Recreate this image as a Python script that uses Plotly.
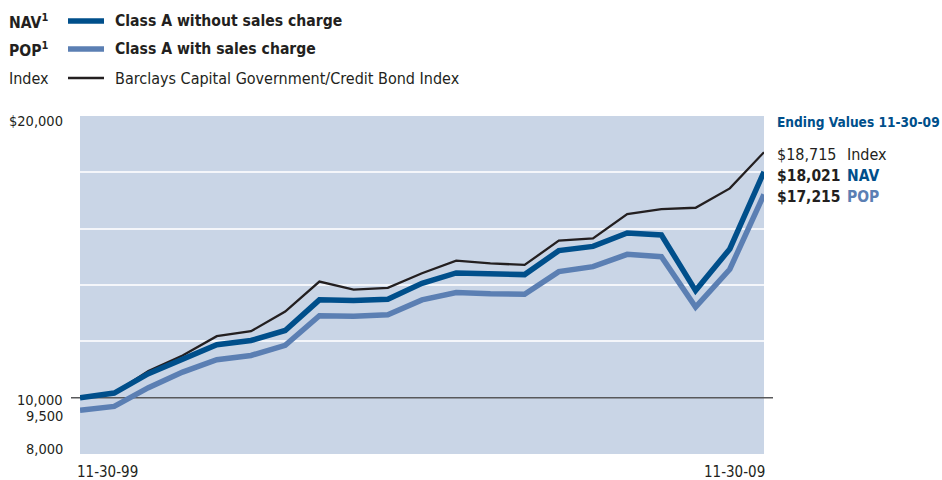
import plotly.graph_objects as go

# ---------------- data ----------------
periods = ["11-30-99", "5-31-00", "11-30-00", "5-31-01", "11-30-01", "5-31-02", "11-30-02",
           "5-31-03", "11-30-03", "5-31-04", "11-30-04", "5-31-05", "11-30-05", "5-31-06",
           "11-30-06", "5-31-07", "11-30-07", "5-31-08", "11-30-08", "5-31-09", "11-30-09"]
nav_values = [10000, 10163, 10850, 11382, 11878, 12030, 12385, 13472, 13448, 13495, 14062,
              14430, 14380, 14369, 15220, 15372, 15845, 15774, 13802, 15280, 18021]
pop_values = [9550, 9690, 10354, 10907, 11346, 11499, 11860, 12911, 12887, 12946, 13472,
              13732, 13686, 13672, 14476, 14653, 15089, 15006, 13219, 14559, 17215]
index_values = [10000, 10170, 10943, 11499, 12183, 12360, 13058, 14121, 13838, 13897, 14416,
                14865, 14770, 14713, 15574, 15656, 16520, 16697, 16743, 17430, 18715]
y_tick_vals = [20000, 10000, 9500, 8000]
y_tick_text = ["$20,000", "10,000", "9,500", "8,000"]
grid_vals = [12000, 14000, 16000, 18000]
x_tick_labels = [periods[0], periods[-1]]

# ---------------- style ----------------
FONT = "DejaVu Sans Condensed, DejaVu Sans, sans-serif"
C_NAV = "#004f8b"
C_POP = "#5b7fb3"
C_IDX = "#231f20"
C_TXT = "#231f20"
BG = "#c9d5e6"

W, H = 942, 480
L, R, T, B = 80, 178, 116, 26
PW, PH = W - L - R, H - T - B


def px(x):
    return (x - L) / PW


def py(y):
    return (H - B - y) / PH


fig = go.Figure()
fig.add_trace(go.Scatter(x=periods, y=index_values, mode="lines", cliponaxis=False,
                         line=dict(color=C_IDX, width=2.3), name="Index"))
fig.add_trace(go.Scatter(x=periods, y=pop_values, mode="lines", cliponaxis=False,
                         line=dict(color=C_POP, width=5.5), name="POP"))
fig.add_trace(go.Scatter(x=periods, y=nav_values, mode="lines", cliponaxis=False,
                         line=dict(color=C_NAV, width=5.5), name="NAV"))

annotations = []
shapes = []

# y tick labels (placed as the original does, slightly nudged)
y_shifts = {20000: -5, 10000: -2, 9500: -4, 8000: 5}
for v, t in zip(y_tick_vals, y_tick_text):
    annotations.append(dict(x=px(64), xref="paper", y=v, yref="y", text=t, showarrow=False,
                            xanchor="right", yanchor="middle", yshift=y_shifts[v],
                            borderpad=0,
                            font=dict(family=FONT, size=14.5, color=C_TXT)))

# x tick labels
annotations.append(dict(x=0, xref="x", y=py(472), yref="paper", text=x_tick_labels[0],
                        showarrow=False, xanchor="left", yanchor="middle", xshift=-4,
                        borderpad=0,
                        font=dict(family=FONT, size=15, color=C_TXT)))
annotations.append(dict(x=len(periods) - 1, xref="x", y=py(472), yref="paper",
                        text=x_tick_labels[1], showarrow=False, xanchor="right",
                        yanchor="middle", xshift=2, borderpad=0,
                        font=dict(family=FONT, size=15, color=C_TXT)))

# baseline at 10,000
shapes.append(dict(type="line", xref="paper", yref="y", x0=px(71), x1=px(773),
                   y0=10000, y1=10000, line=dict(color="#58595b", width=1.5), layer="between"))

# legend
legend_rows = [
    ("<b>NAV<sup>1</sup></b>", C_NAV, 5.5, "<b>Class A without sales charge</b>", 21, 15.6),
    ("<b>POP<sup>1</sup></b>", C_POP, 5.5, "<b>Class A with sales charge</b>", 49, 15.6),
    ("Index", C_IDX, 2.5, "Barclays Capital Government/Credit Bond Index", 78, 16),
]
for lab, col, lw, txt, yy, fs in legend_rows:
    annotations.append(dict(x=px(7), xref="paper", y=py(yy), yref="paper", text=lab,
                            showarrow=False, xanchor="left", yanchor="middle",
                            font=dict(family=FONT, size=fs, color=C_TXT)))
    shapes.append(dict(type="line", xref="paper", yref="paper", x0=px(68), x1=px(104),
                       y0=py(yy), y1=py(yy), line=dict(color=col, width=lw)))
    annotations.append(dict(x=px(113), xref="paper", y=py(yy), yref="paper", text=txt,
                            showarrow=False, xanchor="left", yanchor="middle",
                            font=dict(family=FONT, size=fs, color=C_TXT)))

# ending values
annotations.append(dict(x=px(776), xref="paper", y=py(122), yref="paper",
                        text="<b>Ending Values " + periods[-1] + "</b>", showarrow=False,
                        xanchor="left", yanchor="middle", borderpad=0,
                        font=dict(family=FONT, size=13.6, color=C_NAV)))
end_rows = [
    (f"${index_values[-1]:,}", "Index", C_TXT, False, 154),
    (f"${nav_values[-1]:,}", "NAV", C_NAV, True, 176),
    (f"${pop_values[-1]:,}", "POP", C_POP, True, 197),
]
for val, lab, col, bold, yy in end_rows:
    vt = f"<b>{val}</b>" if bold else val
    lt = f"<b>{lab}</b>" if bold else lab
    fs = 15.5 if bold else 16
    annotations.append(dict(x=px(776), xref="paper", y=py(yy), yref="paper", text=vt,
                            showarrow=False, xanchor="left", yanchor="middle", borderpad=0,
                            font=dict(family=FONT, size=fs, color=C_TXT)))
    annotations.append(dict(x=px(846), xref="paper", y=py(yy), yref="paper", text=lt,
                            showarrow=False, xanchor="left", yanchor="middle", borderpad=0,
                            font=dict(family=FONT, size=fs, color=col)))

fig.update_layout(
    width=W, height=H,
    margin=dict(l=L, r=R, t=T, b=B),
    paper_bgcolor="white", plot_bgcolor=BG,
    showlegend=False,
    annotations=annotations, shapes=shapes,
    xaxis=dict(type="category", range=[0, len(periods) - 1], showgrid=False,
               showticklabels=False, zeroline=False, showline=False, ticks=""),
    yaxis=dict(range=[8000, 20000], tickvals=grid_vals, showticklabels=False,
               showgrid=True, gridcolor="#f4f6fa", gridwidth=1.5, zeroline=False,
               showline=False, ticks=""),
)

fig.write_html("out.html")
